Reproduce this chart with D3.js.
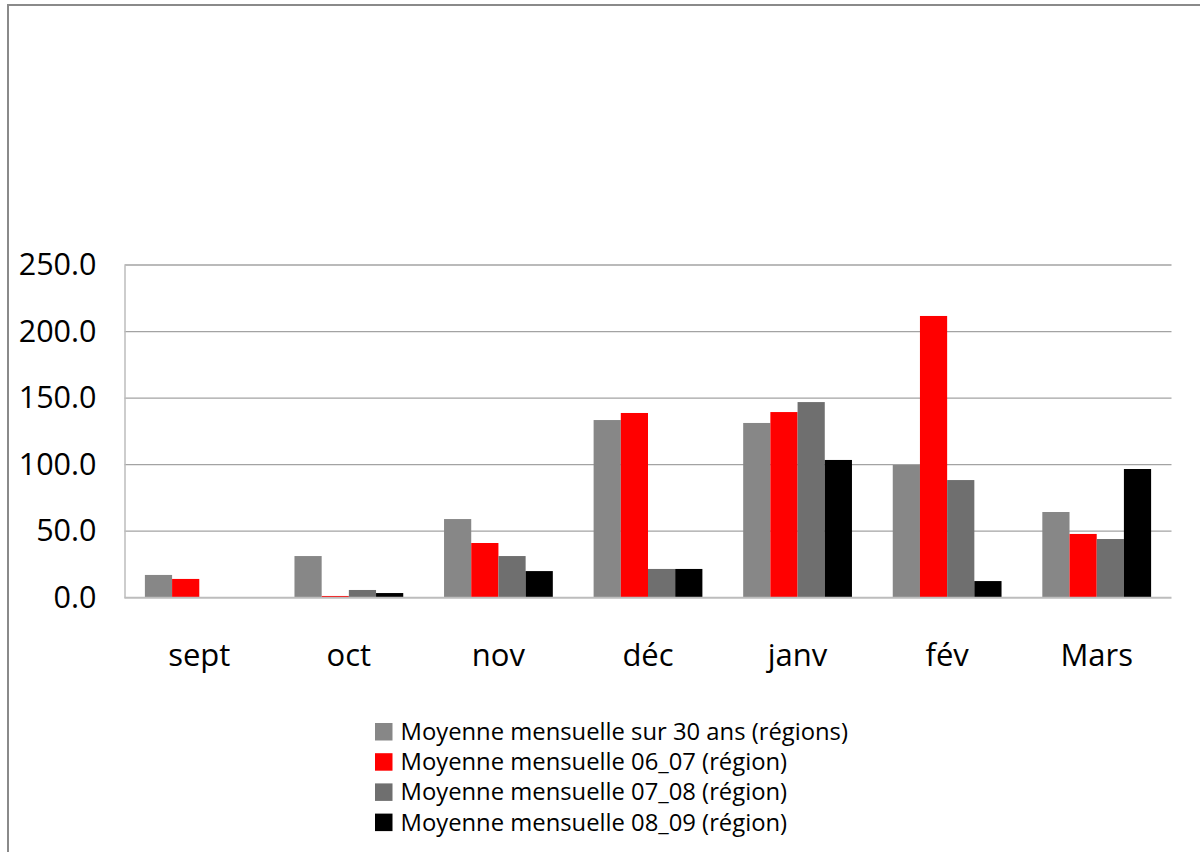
<!DOCTYPE html>
<html>
<head>
<meta charset="utf-8">
<script src="https://cdn.jsdelivr.net/npm/d3@7"></script>
<style>
  body { margin: 0; background: #fff; }
  svg { display: block; font-family: "Open Sans", Lato, sans-serif; }
</style>
</head>
<body>
<svg id="chart" width="1200" height="852"></svg>
<script>
// mois (categories)
const months = ['sept', 'oct', 'nov', 'déc', 'janv', 'fév', 'Mars'];

// series
const seriesNames = [
  'Moyenne mensuelle sur 30 ans (régions)',
  'Moyenne mensuelle 06_07 (région)',
  'Moyenne mensuelle 07_08 (région)',
  'Moyenne mensuelle 08_09 (région)'
];
const moy30 = [17.1, 31.3, 59.1, 133.5, 131.3, 99.7, 64.4];
const moy0607 = [14.1, 1.3, 41.1, 138.8, 139.5, 211.7, 47.9];
const moy0708 = [null, 5.8, 31.3, 21.6, 147.0, 88.4, 44.1];
const moy0809 = [null, 3.5, 20.0, 21.6, 103.5, 12.5, 96.7];
const colors = ['#878787', '#ff0000', '#6f6f6f', '#000000'];

const yTicks = [0, 50, 100, 150, 200, 250];

const svg = d3.select('#chart');

// cadre autour du graphique
svg.append('path')
  .attr('d', 'M8,852 L8,5 L1200,5')
  .attr('fill', 'none')
  .attr('stroke', '#8a8a8a')
  .attr('stroke-width', 2);

const plotLeft = 124.5, plotRight = 1171.5, plotTop = 265, plotBottom = 597.7;

const x = d3.scaleBand().domain(months).range([plotLeft, plotRight]).padding(0);
const x1 = d3.scaleBand().domain(d3.range(4)).range([0, x.bandwidth()]).paddingInner(0).paddingOuter(0.75);
const y = d3.scaleLinear().domain([0, 250]).range([plotBottom, plotTop]);

// gridlines
svg.append('g')
  .selectAll('line')
  .data(yTicks.filter(t => t > 0))
  .join('line')
  .attr('x1', plotLeft).attr('x2', plotRight)
  .attr('y1', d => y(d)).attr('y2', d => y(d))
  .attr('stroke', '#a3a3a3')
  .attr('stroke-width', 1.3);

// axe y
const yAxis = svg.append('g')
  .attr('transform', `translate(${plotLeft},0)`)
  .call(d3.axisLeft(y).tickValues(yTicks).tickFormat(d3.format('.1f')).tickSize(0).tickPadding(28));
yAxis.select('.domain').attr('stroke', '#bdbdbd').attr('stroke-width', 1.5);
yAxis.selectAll('text')
  .attr('font-size', 30.5)
  .attr('font-family', '"Open Sans", sans-serif')
  .attr('fill', '#000');

// barres
const allSeries = [moy30, moy0607, moy0708, moy0809];
const groups = svg.append('g')
  .selectAll('g')
  .data(months)
  .join('g')
  .attr('transform', d => `translate(${x(d)},0)`);

groups.selectAll('rect')
  .data((m, i) => allSeries.map((s, k) => ({ k: k, v: s[i] })).filter(d => d.v != null))
  .join('rect')
  .attr('x', d => x1(d.k))
  .attr('width', x1.bandwidth())
  .attr('y', d => y(d.v))
  .attr('height', d => plotBottom - y(d.v))
  .attr('fill', d => colors[d.k]);

// axe x (ligne du zéro)
svg.append('line')
  .attr('x1', plotLeft).attr('x2', plotRight)
  .attr('y1', plotBottom).attr('y2', plotBottom)
  .attr('stroke', '#bdbdbd')
  .attr('stroke-width', 2);

const xAxis = svg.append('g')
  .attr('transform', `translate(0,${plotBottom})`)
  .call(d3.axisBottom(x).tickSize(0).tickPadding(0));
xAxis.select('.domain').remove();
xAxis.selectAll('text')
  .attr('dy', null)
  .attr('y', 68)
  .attr('font-size', 31)
  .attr('font-family', '"Open Sans", sans-serif')
  .attr('fill', '#000');

// legende
const legend = svg.append('g').attr('transform', 'translate(375,723)');
const items = legend.selectAll('g')
  .data(seriesNames)
  .join('g')
  .attr('transform', (d, i) => `translate(0,${i * 30.2})`);
items.append('rect')
  .attr('width', 17.5).attr('height', 17.5)
  .attr('fill', (d, i) => colors[i]);
items.append('text')
  .attr('x', 25.5)
  .attr('y', 17)
  .attr('font-size', 23.8)
  .attr('fill', '#000')
  .text(d => d);
</script>
</body>
</html>
